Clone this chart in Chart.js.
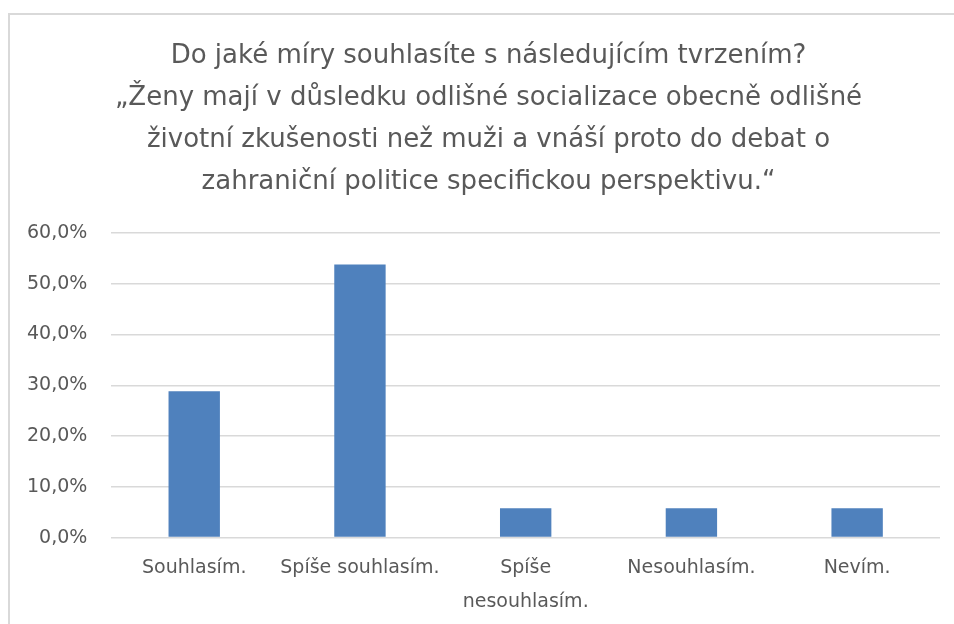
<!DOCTYPE html>
<html lang="cs">
<head>
    <meta charset="UTF-8">
    <title>Graf</title>
    <script src="https://cdn.jsdelivr.net/npm/chart.js"></script>
    <style>
        body { margin: 0; background: #fff; overflow: hidden; }
        #ramecek { position: absolute; left: 8px; top: 13px; width: 1000px; height: 700px; border: 2px solid #d9d9d9; }
        #obal { position: absolute; left: 0; top: 0; width: 954px; height: 624px; }
    </style>
</head>
<body>
    <div id="ramecek"></div>
    <div id="obal"><canvas id="graf"></canvas></div>

    <script>
        const kategorie = ["Souhlasím.", "Spíše souhlasím.", ["Spíše", "nesouhlasím."], "Nesouhlasím.", "Nevím."]
        const hodnoty = [28.8, 53.8, 5.8, 5.8, 5.8]
        const titulek = [
            "Do jaké míry souhlasíte s následujícím tvrzením?",
            "„Ženy mají v důsledku odlišné socializace obecně odlišné",
            "životní zkušenosti než muži a vnáší proto do debat o",
            "zahraniční politice specifickou perspektivu.“"
        ]
        const osaMin = 0, osaMax = 60, osaKrok = 10

        const pismo = "'DejaVu Sans', sans-serif"

        // nadpis je v originale trochu posunuty doprava
        const posunNadpisu = {
            id: 'posunNadpisu',
            afterLayout(chart) {
                if (chart.titleBlock) chart.titleBlock.left += 34
            }
        }

        new Chart(document.getElementById('graf'), {
            type: 'bar',
            data: {
                labels: kategorie,
                datasets: [{
                    data: hodnoty,
                    backgroundColor: '#4f81bd',
                    borderWidth: 0,
                    barPercentage: 0.31,
                    categoryPercentage: 1
                }]
            },
            options: {
                responsive: true,
                maintainAspectRatio: false,
                animation: false,
                layout: { padding: { top: 15, left: 3, right: 14, bottom: 0 } },
                plugins: {
                    legend: { display: false },
                    tooltip: { enabled: false },
                    title: {
                        display: true,
                        text: titulek,
                        color: '#595959',
                        font: { family: pismo, size: 26, weight: 'normal', lineHeight: 1.615 },
                        padding: { top: 20, bottom: 30 }
                    }
                },
                scales: {
                    x: {
                        grid: { display: false },
                        border: { display: false },
                        ticks: {
                            color: '#595959',
                            font: { family: pismo, size: 19, lineHeight: 1.8 },
                            maxRotation: 0,
                            autoSkip: false,
                            padding: 5
                        }
                    },
                    y: {
                        min: osaMin,
                        max: osaMax,
                        grid: { color: '#d9d9d9', lineWidth: 1.5, drawTicks: false },
                        border: { display: false },
                        ticks: {
                            stepSize: osaKrok,
                            color: '#595959',
                            font: { family: pismo, size: 19 },
                            padding: 24,
                            callback: v => v.toFixed(1).replace('.', ',') + '%'
                        }
                    }
                }
            },
            plugins: [posunNadpisu]
        })
    </script>
</body>
</html>
